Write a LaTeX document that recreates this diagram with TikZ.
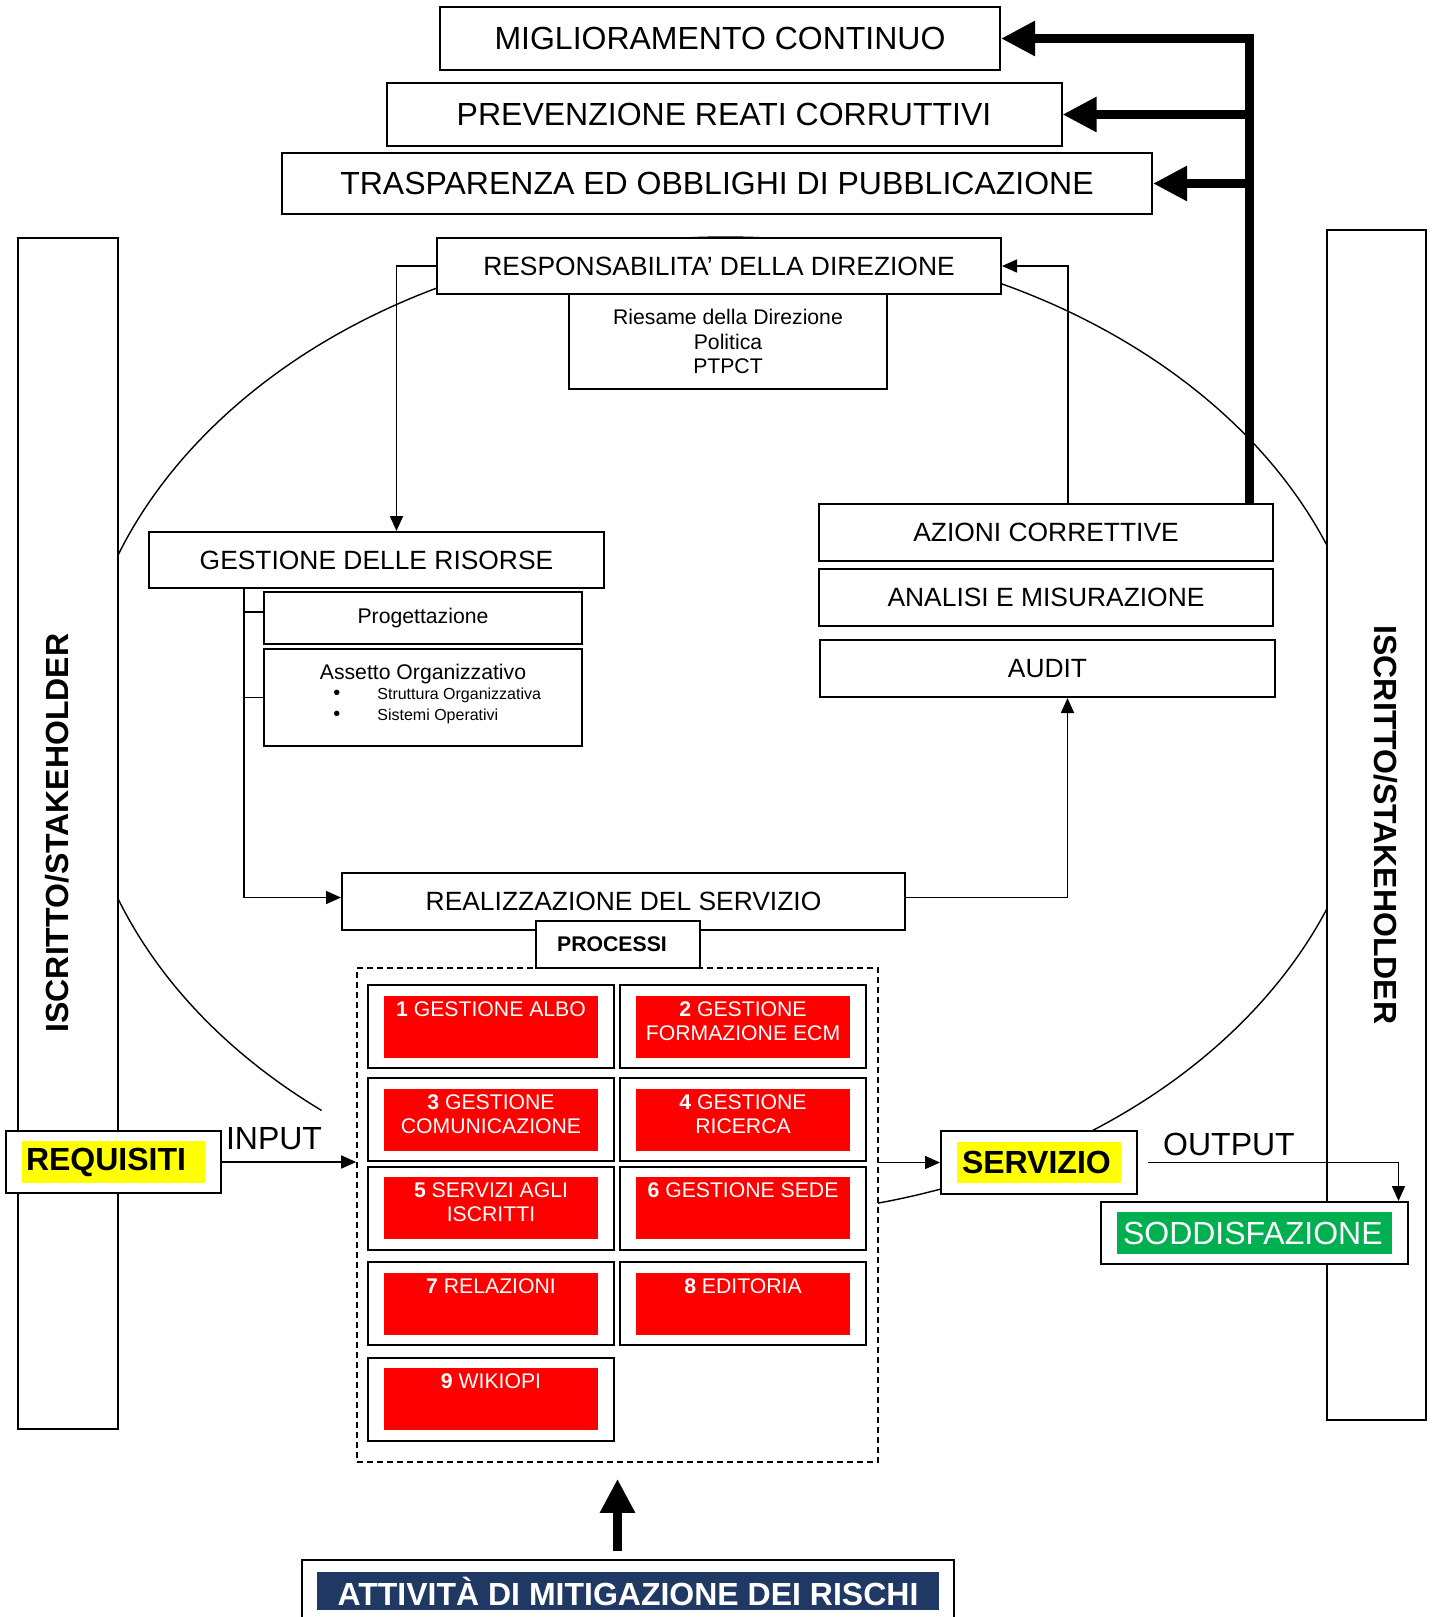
\documentclass[tikz,border=0pt]{standalone}
\usepackage{fontspec}
\setmainfont{Liberation Sans}
\usepackage{xcolor}
\definecolor{rred}{HTML}{FF0000}
\definecolor{yyellow}{HTML}{FFFF00}
\definecolor{ggreen}{HTML}{00B050}
\definecolor{nnavy}{HTML}{1F3864}
\usepackage{tikz}
\usetikzlibrary{calc}
\usetikzlibrary{arrows.meta}
\usetikzlibrary{positioning}
\setlength{\fboxsep}{0pt}
\newcommand{\fondo}[4]{\colorbox{#1}{\parbox[c][#3][c]{#2}{#4}}}
\newcommand{\processo}[2]{\colorbox{rred}{\parbox[c][31pt][t]{107pt}{\centering\vspace*{3pt}\textbf{#1} #2}}}
\newcommand{\punto}{{\fontsize{10}{10}\selectfont\textbullet}}

\begin{document}
\begin{tikzpicture}[x=0.5pt,y=-0.5pt,
  frame/.style={draw,line width=1pt,fill=white,inner sep=0pt},
  big/.style={font=\fontsize{16}{19}\selectfont},
  bigb/.style={font=\fontsize{16}{19}\selectfont\bfseries},
  mid/.style={font=\fontsize{13.2}{16}\selectfont},
  small/.style={font=\fontsize{10.6}{12.25}\selectfont},
  cell/.style={frame,text=white,minimum width=123pt,minimum height=41.5pt,font=\fontsize{10.6}{12}\selectfont},
  conn/.style={line width=0.8pt,-{Triangle[length=7.5pt,width=6.5pt]}},
  fat/.style={line width=4.5pt,-{Triangle[length=17pt,width=16.5pt]}}]
\useasboundingbox (0,0) rectangle (1434,1617);
\draw[line width=0.7pt] (725,727) ++(128.5:648 and 490) arc[start angle=128.5,end angle=436.4,x radius=648,y radius=490];
\node[frame,minimum width=50pt,minimum height=595.5pt] (lbar) at (68,833.5) {};
\node[frame,minimum width=49.5pt,minimum height=595pt] (rbar) at (1376.5,825) {};
\node[bigb,rotate=90] (ltxt) at (57,833) {ISCRITTO/STAKEHOLDER};
\node[bigb,rotate=-90] (rtxt) at (1386,825) {ISCRITTO/STAKEHOLDER};
\node[frame,big,minimum width=280pt,minimum height=31.5pt] (mig) at (720,38.5) {MIGLIORAMENTO CONTINUO};
\node[frame,big,minimum width=337.5pt,minimum height=31.5pt] (prev) at (724,114.5) {PREVENZIONE REATI CORRUTTIVI};
\node[frame,big,minimum width=435pt,minimum height=30.5pt] (trasp) at (717,183.5) {TRASPARENZA ED OBBLIGHI DI PUBBLICAZIONE};
\node[frame,small,align=center,minimum width=159pt,minimum height=47.5pt] (ries) at (728,341.5) {Riesame della Direzione\\Politica\\PTPCT};
\node[frame,mid,minimum width=282pt,minimum height=28pt] (resp) at (719,266) {RESPONSABILITA’ DELLA DIREZIONE};
\node[frame,mid,minimum width=227.5pt,minimum height=28pt] (gest) at (376.5,560) {GESTIONE DELLE RISORSE};
\node[frame,small,minimum width=159pt,minimum height=26pt] (prog) at (423,618) {Progettazione};
\node[frame,minimum width=159pt,minimum height=48.5pt] (asset) at (423,697.5) {};
\node[small] (assettit) at (423,674) {Assetto Organizzativo};
\node[font=\fontsize{8}{10.5}\selectfont,align=left,anchor=west,inner sep=0pt] (assetlst) at (333,705.5) {\punto\hspace{18.5pt}Struttura Organizzativa\\\punto\hspace{18.5pt}Sistemi Operativi};
\node[frame,mid,minimum width=227pt,minimum height=28.5pt] (az) at (1046,532.5) {AZIONI CORRETTIVE};
\node[frame,mid,minimum width=227pt,minimum height=28.5pt] (anal) at (1046,597.5) {ANALISI E MISURAZIONE};
\node[frame,mid,minimum width=227.5pt,minimum height=28.5pt] (audit) at (1047.5,668.5) {AUDIT};
\node[frame,mid,minimum width=281.5pt,minimum height=28.5pt] (real) at (623.5,901.5) {REALIZZAZIONE DEL SERVIZIO};
\node[draw,dashed,dash pattern=on 3pt off 2pt,line width=0.8pt,fill=white,minimum width=260.5pt,minimum height=247pt] (dash) at (617.5,1215) {};
\node[frame,font=\fontsize{10.6}{12}\selectfont\bfseries,minimum width=82pt,minimum height=23.5pt] (proc) at (618,944.5) {PROCESSI\hspace*{6pt}};
\node[cell] (p1) at (491,1026.5) {\processo{1}{GESTIONE ALBO}};
\node[cell] (p2) at (743,1026.5) {\processo{2}{GESTIONE\\FORMAZIONE ECM}};
\node[cell] (p3) at (491,1119.5) {\processo{3}{GESTIONE\\COMUNICAZIONE}};
\node[cell] (p4) at (743,1119.5) {\processo{4}{GESTIONE\\RICERCA}};
\node[cell] (p5) at (491,1208) {\processo{5}{SERVIZI AGLI\\ISCRITTI}};
\node[cell] (p6) at (743,1208) {\processo{6}{GESTIONE SEDE}};
\node[cell] (p7) at (491,1303.5) {\processo{7}{RELAZIONI}};
\node[cell] (p8) at (743,1303.5) {\processo{8}{EDITORIA}};
\node[cell] (p9) at (491,1399) {\processo{9}{WIKIOPI}};
\node[frame,bigb,minimum width=107.5pt,minimum height=31pt] (req) at (113.5,1162) {\fondo{yyellow}{91.5pt}{21pt}{\hspace*{2pt}REQUISITI}};
\node[frame,bigb,minimum width=98pt,minimum height=31.5pt] (serv) at (1039,1162.5) {\fondo{yyellow}{82pt}{20.5pt}{\hspace*{2.5pt}SERVIZIO}};
\node[frame,big,text=white,minimum width=153.5pt,minimum height=31pt] (sodd) at (1254.5,1233) {\fondo{ggreen}{137.5pt}{21pt}{\hspace*{3pt}SODDISFAZIONE}};
\node[frame,bigb,text=white,minimum width=326pt,minimum height=31pt] (att) at (628,1591) {\fondo{nnavy}{311pt}{19pt}{\centering ATTIVITÀ DI MITIGAZIONE DEI RISCHI}};
\node[big] (inp) at (274,1138.5) {INPUT};
\node[big] (outp) at (1229,1144) {OUTPUT};
\coordinate (tr) at (244,588);
\coordinate (fb) at (1249,38.5);
\draw[conn] (resp.west) -| ([xshift=10pt]gest.north);
\draw[conn] ([xshift=11pt]az.north) |- (resp.east);
\draw[conn] ([yshift=2pt]real.east) -| ([xshift=10pt]audit.south);
\draw[conn] (tr) |- ([yshift=2pt]real.west);
\draw[line width=0.8pt] ($(prog.west)+(0,-6)$) -- ($(tr |- prog.west)+(0,-6)$);
\draw[line width=0.8pt] (asset.west) -- (tr |- asset.west);
\draw[conn] (req.east) -- (req.east -| dash.west);
\draw[conn] (dash.east |- serv.west) -- (serv.west);
\draw[conn] ([xshift=5pt]serv.east) -| ([xshift=72pt]sodd.north);
\draw[fat] (az.north -| fb) -- (fb) -- (mig.east);
\draw[fat] (fb |- prev.east) -- (prev.east);
\draw[fat] (fb |- trasp.east) -- (trasp.east);
\draw[fat,shorten <=4pt,shorten >=8pt] (dash.south |- att.north) -- (dash.south);
\end{tikzpicture}
\end{document}
